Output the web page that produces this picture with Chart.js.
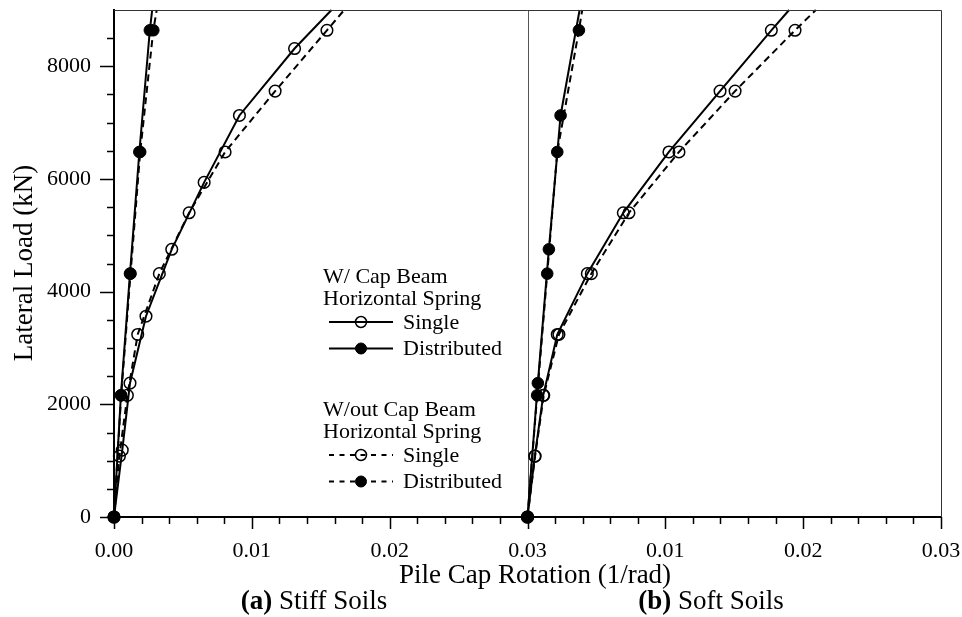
<!DOCTYPE html>
<html>
<head>
<meta charset="utf-8">
<script src="https://cdn.jsdelivr.net/npm/chart.js@4.4.1/dist/chart.umd.min.js"></script>
<style>
  html, body { margin: 0; padding: 0; background: #fff; }
  #wrap { width: 962px; height: 617px; }
</style>
</head>
<body>
<div id="wrap"><canvas id="chart" width="962" height="617"></canvas></div>
<script>
// (a) Stiff soils: pile cap rotation (1/rad) vs lateral load (kN)
const stiffSingleWithLoad = [0, 1188, 2376, 3564, 4752, 5940, 7128, 8316, 9000];
const stiffSingleWithRot = [0, 0.0006, 0.00116, 0.00232, 0.00419, 0.00654, 0.0091, 0.0131, 0.01578];
const stiffDistWithLoad = [0, 2160, 4320, 6480, 8640, 9000];
const stiffDistWithRot = [0, 0.0005, 0.00116, 0.00184, 0.0026, 0.00277];
const stiffSingleWithoutLoad = [0, 1080, 2160, 3240, 4320, 5400, 6480, 7560, 8640, 9000];
const stiffSingleWithoutRot = [0, 0.00039, 0.00097, 0.00172, 0.00329, 0.00545, 0.00806, 0.01169, 0.01545, 0.0167];
const stiffDistWithoutLoad = [0, 2160, 4320, 6480, 8640, 9000];
const stiffDistWithoutRot = [0, 0.00052, 0.0012, 0.0019, 0.00285, 0.0031];

// (b) Soft soils
const softSingleWithLoad = [0, 1080, 2160, 3240, 4320, 5400, 6480, 7560, 8640, 9000];
const softSingleWithRot = [0, 0.00053, 0.00114, 0.00216, 0.00434, 0.00695, 0.01026, 0.01397, 0.01769, 0.01898];
const softDistWithLoad = [0, 2376, 4752, 7128, 9000];
const softDistWithRot = [0, 0.00075, 0.00155, 0.0024, 0.00378];
const softSingleWithoutLoad = [0, 1080, 2160, 3240, 4320, 5400, 6480, 7560, 8640, 9000];
const softSingleWithoutRot = [0, 0.00055, 0.00118, 0.00228, 0.00463, 0.00736, 0.01099, 0.01506, 0.01941, 0.02092];
const softDistWithoutLoad = [0, 2160, 4320, 6480, 8640, 9000];
const softDistWithoutRot = [0, 0.0007, 0.00143, 0.00216, 0.00373, 0.00397];

// axes
const panelSpan = 0.03;
const rotMax = 0.06;
const loadMax = 9000;
const xTitle = "Pile Cap Rotation (1/rad)";
const yTitle = "Lateral Load (kN)";
const captions = [["(a)", "Stiff Soils"], ["(b)", "Soft Soils"]];
const legendGroups = [
  { title: ["W/ Cap Beam", "Horizontal Spring"], items: [["Single", 0], ["Distributed", 1]] },
  { title: ["W/out Cap Beam", "Horizontal Spring"], items: [["Single", 2], ["Distributed", 3]] },
];

const FONT = '"Liberation Serif", "Times New Roman", serif';
Chart.defaults.font.family = FONT;
Chart.defaults.font.size = 22;
Chart.defaults.color = "#000";

function series(label, rot, load, offset, dashed, filled) {
  return {
    label,
    data: rot.map((r, i) => ({ x: r + offset, y: load[i] })),
    showLine: true,
    borderColor: "#000",
    borderWidth: 2,
    borderDash: dashed ? [7, 4.5] : [],
    pointStyle: "circle",
    pointRadius: (c) => (c.raw && c.raw.y >= loadMax ? 0 : 5.8),
    pointBackgroundColor: filled ? "#000" : "rgba(0,0,0,0)",
    pointBorderColor: "#000",
    pointBorderWidth: filled ? 1 : 1.5,
    tension: 0,
    clip: false,
  };
}

const datasets = [
  series("W/ Single", stiffSingleWithRot, stiffSingleWithLoad, 0, false, false),
  series("W/ Distributed", stiffDistWithRot, stiffDistWithLoad, 0, false, true),
  series("W/out Single", stiffSingleWithoutRot, stiffSingleWithoutLoad, 0, true, false),
  series("W/out Distributed", stiffDistWithoutRot, stiffDistWithoutLoad, 0, true, true),
  series("W/ Single b", softSingleWithRot, softSingleWithLoad, panelSpan, false, false),
  series("W/ Distributed b", softDistWithRot, softDistWithLoad, panelSpan, false, true),
  series("W/out Single b", softSingleWithoutRot, softSingleWithoutLoad, panelSpan, true, false),
  series("W/out Distributed b", softDistWithoutRot, softDistWithoutLoad, panelSpan, true, true),
];

const isMajorX = (v) => Math.abs(v * 100 - Math.round(v * 100)) < 1e-6;
const isMajorY = (v) => v % 2000 === 0;

// tick marks, panel divider and frame
const framePlugin = {
  id: "frame",
  beforeDatasetsDraw(chart) {
    const { ctx, chartArea: a, scales: { x } } = chart;
    const px = Math.round(x.getPixelForValue(panelSpan)) + 0.5;
    ctx.save();
    ctx.strokeStyle = "#555";
    ctx.lineWidth = 1;
    ctx.beginPath();
    ctx.moveTo(px, a.top);
    ctx.lineTo(px, a.bottom);
    ctx.stroke();
    ctx.restore();
  },
  afterDraw(chart) {
    const { ctx, chartArea: a, scales: { x, y } } = chart;
    ctx.save();
    ctx.strokeStyle = "#000";
    ctx.lineWidth = 1.5;
    ctx.beginPath();
    x.ticks.forEach((t) => {
      const px = Math.round(x.getPixelForValue(t.value)) + 0.5;
      ctx.moveTo(px, a.bottom);
      ctx.lineTo(px, a.bottom + (isMajorX(t.value) ? 12 : 7));
    });
    y.ticks.forEach((t) => {
      if (t.value >= loadMax) return;
      const py = Math.round(y.getPixelForValue(t.value)) + 0.5;
      ctx.moveTo(a.left, py);
      ctx.lineTo(a.left - (isMajorY(t.value) ? 14 : 7), py);
    });
    ctx.stroke();
    ctx.strokeStyle = "#333";
    ctx.lineWidth = 1;
    ctx.beginPath();
    ctx.moveTo(a.left, a.top + 0.5);
    ctx.lineTo(a.right + 0.5, a.top + 0.5);
    ctx.lineTo(a.right + 0.5, a.bottom);
    ctx.stroke();
    ctx.restore();
  },
};

// axis titles, panel captions, legend
const textPlugin = {
  id: "texts",
  afterDraw(chart) {
    const ctx = chart.ctx;
    ctx.save();
    ctx.fillStyle = "#000";
    ctx.textBaseline = "alphabetic";
    ctx.font = `27px ${FONT}`;
    ctx.textAlign = "center";
    ctx.fillText(xTitle, 535, 583);
    ctx.save();
    ctx.translate(32, 263);
    ctx.rotate(-Math.PI / 2);
    ctx.fillText(yTitle, 0, 0);
    ctx.restore();

    const capX = [314, 711];
    ctx.textAlign = "left";
    captions.forEach(([tag, name], i) => {
      ctx.font = `bold 27px ${FONT}`;
      const w1 = ctx.measureText(tag + " ").width;
      ctx.font = `27px ${FONT}`;
      const w2 = ctx.measureText(name).width;
      const x0 = capX[i] - (w1 + w2) / 2;
      ctx.font = `bold 27px ${FONT}`;
      ctx.fillText(tag, x0, 609);
      ctx.font = `27px ${FONT}`;
      ctx.fillText(name, x0 + w1, 609);
    });

    // legend
    const groupTop = [283, 416];
    ctx.font = `22px ${FONT}`;
    legendGroups.forEach((g, gi) => {
      let yy = groupTop[gi];
      ctx.textBaseline = "alphabetic";
      g.title.forEach((line) => {
        ctx.fillText(line, 323, yy);
        yy += 21.5;
      });
      yy -= 4;
      g.items.forEach(([label, di]) => {
        const ds = chart.data.datasets[di];
        ctx.strokeStyle = "#000";
        ctx.lineWidth = ds.borderWidth;
        ctx.setLineDash(ds.borderDash.length ? [5, 5.5] : []);
        ctx.beginPath();
        ctx.moveTo(329, yy);
        ctx.lineTo(393, yy);
        ctx.stroke();
        ctx.setLineDash([]);
        ctx.beginPath();
        ctx.arc(361, yy, 5.5, 0, Math.PI * 2);
        ctx.fillStyle = ds.pointBackgroundColor;
        ctx.fill();
        ctx.lineWidth = ds.pointBorderWidth;
        ctx.stroke();
        ctx.fillStyle = "#000";
        ctx.textBaseline = "middle";
        ctx.fillText(label, 403, yy + 1);
        yy += 26.5;
      });
    });
    ctx.restore();
  },
};

new Chart(document.getElementById("chart"), {
  type: "scatter",
  data: { datasets },
  options: {
    responsive: false,
    animation: false,
    events: [],
    layout: { padding: { left: 0, right: 21, top: 10, bottom: 0 } },
    plugins: { legend: { display: false }, tooltip: { enabled: false } },
    scales: {
      x: {
        type: "linear",
        min: 0,
        max: rotMax,
        grid: { display: false },
        border: { display: true, color: "#000", width: 2 },
        ticks: {
          stepSize: 0.002,
          autoSkip: false,
          maxRotation: 0,
          padding: 13,
          callback: (v) => (isMajorX(v) ? (v > panelSpan + 1e-9 ? v - panelSpan : v).toFixed(2) : ""),
        },
        afterFit(scale) {
          scale.height = 100;
          scale.paddingLeft = 0;
          scale.paddingRight = 0;
        },
      },
      y: {
        type: "linear",
        min: 0,
        max: loadMax,
        grid: { display: false },
        border: { display: true, color: "#000", width: 2 },
        ticks: {
          stepSize: 500,
          autoSkip: false,
          padding: 15,
          callback: (v) => (isMajorY(v) && v < loadMax ? String(v) : ""),
        },
        afterFit(scale) {
          scale.width = 114;
          scale.paddingTop = 0;
          scale.paddingBottom = 0;
        },
      },
    },
  },
  plugins: [framePlugin, textPlugin],
});
</script>
</body>
</html>
